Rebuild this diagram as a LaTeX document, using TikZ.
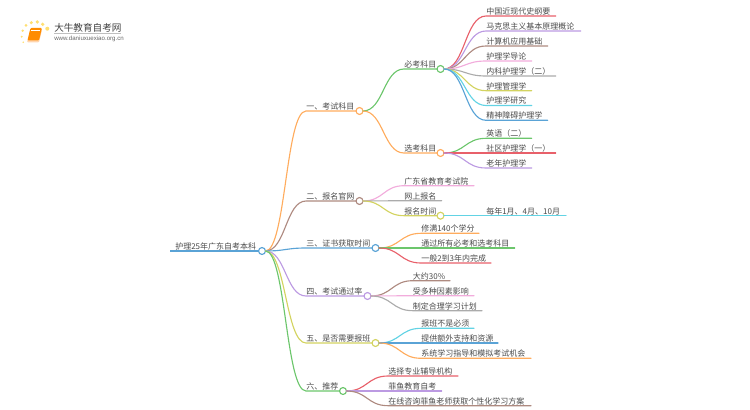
\documentclass[tikz,border=0pt]{standalone}
\usepackage{fontspec}
\setmainfont{Noto Sans CJK SC}
\newfontfamily\urlfont{Liberation Sans}
\usetikzlibrary{calc}
\definecolor{cRed}{HTML}{E8606A}
\definecolor{cPurple}{HTML}{BC9AE2}
\definecolor{cBrown}{HTML}{AE8A80}
\definecolor{cPink}{HTML}{F2ACDC}
\definecolor{cGray}{HTML}{ABABAB}
\definecolor{cYellow}{HTML}{D3D360}
\definecolor{cCyan}{HTML}{62D3E4}
\definecolor{cBlue}{HTML}{5AA3D6}
\definecolor{cOrange}{HTML}{FFAC5E}
\definecolor{cGreen}{HTML}{6CC66C}
\definecolor{txt}{HTML}{4A4A4A}
\tikzset{
  link/.style={line width=0.85pt,line cap=round},
  hub/.style={circle,draw=#1,fill=white,line width=0.85pt,inner sep=0pt,minimum size=5.2pt,outer sep=0pt},
  lab/.style={anchor=south west,inner sep=0pt,text=txt,font=\fontsize{6pt}{7pt}\selectfont},
  dot/.style={circle,fill=#1,inner sep=0pt,draw=none}
}
% name, parent, x, y, xend, colour, text
\newcommand{\leaf}[7]{%
  \coordinate (#1-s) at (#3,#4);
  \coordinate (#1-e) at (#5,#4);
  \coordinate (#1-m) at ($(#2.east)!.5!(#1-s)$);
  \draw[link,#6] (#2.east) .. controls (#1-m |- #2.east) and (#1-m |- #1-s) .. (#1-s) -- (#1-e);
  \node[lab] (#1) at (#3,#4-0.6) {#7};
}
% name, parent, x, y, hub x, colour, text
\newcommand{\branch}[7]{%
  \node[hub=#6] (#1h) at (#5,#4) {};
  \coordinate (#1-s) at (#3,#4);
  \coordinate (#1-m) at ($(#2.east)!.5!(#1-s)$);
  \draw[link,#6] (#2.east) .. controls (#1-m |- #2.east) and (#1-m |- #1-s) .. (#1-s) -- (#1h.west);
  \node[lab] (#1) at (#3,#4-0.6) {#7};
}
\begin{document}
\begin{tikzpicture}[x=0.75pt,y=-0.75pt]
\useasboundingbox (0,0) rectangle (750,410);
% logo
\foreach \n/\a/\b/\r in {l1/22.7/30.7/1.3,l2/26/25.3/1.5,l3/31.3/22.7/1.7,l4/37.3/22/1.8,l5/42.7/24.3/1.8,l6/47.3/28.7/2,l7/21.7/36.7/1.1,l8/23.3/42.3/0.9}
  \node[dot=cOrange!55!yellow!70!white,minimum size=2*\r*0.75pt] (\n) at (\a,\b) {};
\fill[cOrange!50!white,rounded corners=0.8pt] (30,30) -- (42,30) -- (39,42.5) -- (27,42.5) -- cycle;
\fill[orange!90!yellow,rounded corners=0.8pt] (30.5,28) -- (42,28) -- (39,40.5) -- (27.5,40.5) -- cycle;
\draw[white,line width=0.3pt] (31,30.5) -- (40,30.5);
\node[anchor=west,inner sep=0pt,text=black!75,font=\fontsize{7.2pt}{8pt}\selectfont] (logoT) at (54,27.5) {大牛教育自考网};
\draw[black!25,line width=0.4pt] (54,33.5) -- (121,33.5);
\node[anchor=west,inner sep=0pt,text=black!60,font=\urlfont\fontsize{4.6pt}{6pt}\selectfont] (logoU) at (54,39) {www.daniuxuexiao.org.cn};
% root
\node[hub=cBlue] (root) at (262,251) {};
\coordinate (rootS) at (170,251);
\draw[cBlue,line width=1.4pt] (rootS) -- (root.west);
\node[lab] (rootT) at (175,250.2) {护理25年广东自考本科};
% first level
\branch{A}{root}{306}{111}{359.5}{cOrange}{一、考试科目}
\branch{B}{root}{306}{201}{359.5}{cBrown}{二、报名官网}
\branch{C}{root}{306}{248}{375.5}{cBlue}{三、证书获取时间}
\branch{D}{root}{306}{296}{367.5}{cPurple}{四、考试通过率}
\branch{E}{root}{306}{343}{375.5}{cYellow}{五、是否需要报班}
\branch{F}{root}{306}{391}{343}{cGreen}{六、推荐}
% second level
\branch{AA}{Ah}{404}{69}{440.5}{cGreen}{必考科目}
\branch{AB}{Ah}{404}{153}{440.5}{cOrange}{选考科目}
\leaf{a1}{AAh}{486}{16}{555.7}{cRed}{中国近现代史纲要}
\leaf{a2}{AAh}{486}{31}{580.7}{cPurple}{马克思主义基本原理概论}
\leaf{a3}{AAh}{486}{46}{547.7}{cBrown}{计算机应用基础}
\leaf{a4}{AAh}{486}{61}{531.7}{cPink}{护理学导论}
\leaf{a5}{AAh}{486}{76}{555.7}{cGray}{内科护理学（二）}
\leaf{a6}{AAh}{486}{90.7}{531.7}{cYellow}{护理管理学}
\leaf{a7}{AAh}{486}{105.5}{531.7}{cCyan}{护理学研究}
\leaf{a8}{AAh}{486}{120.3}{547.7}{cBlue}{精神障碍护理学}
\leaf{b1}{ABh}{486}{138.3}{531.7}{cGreen}{英语（二）}
\leaf{b2}{ABh}{486}{153}{555.7}{cRed}{社区护理学（一）}
\leaf{b3}{ABh}{486}{168}{531.7}{cPurple}{老年护理学}
\leaf{c1}{Bh}{404}{185.7}{474}{cPink}{广东省教育考试院}
\leaf{c2}{Bh}{404}{200.7}{441.7}{cGray}{网上报名}
\branch{CC}{Bh}{404}{215.7}{440.5}{cYellow}{报名时间}
\leaf{c4}{CCh}{486}{215.7}{566}{cCyan}{每年1月、4月、10月}
\leaf{d1}{Ch}{421}{233.3}{479}{cOrange}{修满140个学分}
\leaf{d2}{Ch}{421}{248}{514.7}{cGreen}{通过所有必考和选考科目}
\leaf{d3}{Ch}{421}{263}{491}{cRed}{一般2到3年内完成}
\leaf{e1}{Dh}{412.7}{280.7}{450}{cBrown}{大约30\%}
\leaf{e2}{Dh}{412.7}{295.7}{474}{cPink}{受多种因素影响}
\leaf{e3}{Dh}{412.7}{310.7}{482}{cGray}{制定合理学习计划}
\leaf{f1}{Eh}{421}{328.3}{474}{cCyan}{报班不是必须}
\leaf{f2}{Eh}{421}{343}{498}{cBlue}{提供额外支持和资源}
\leaf{f3}{Eh}{421}{358.3}{531}{cOrange}{系统学习指导和模拟考试机会}
\leaf{g1}{Fh}{388}{376}{458}{cRed}{选择专业辅导机构}
\leaf{g2}{Fh}{388}{391}{441.7}{cPurple}{菲鱼教育自考}
\leaf{g3}{Fh}{388}{405.7}{531}{cBrown}{在线咨询菲鱼老师获取个性化学习方案}
\end{tikzpicture}
\end{document}
